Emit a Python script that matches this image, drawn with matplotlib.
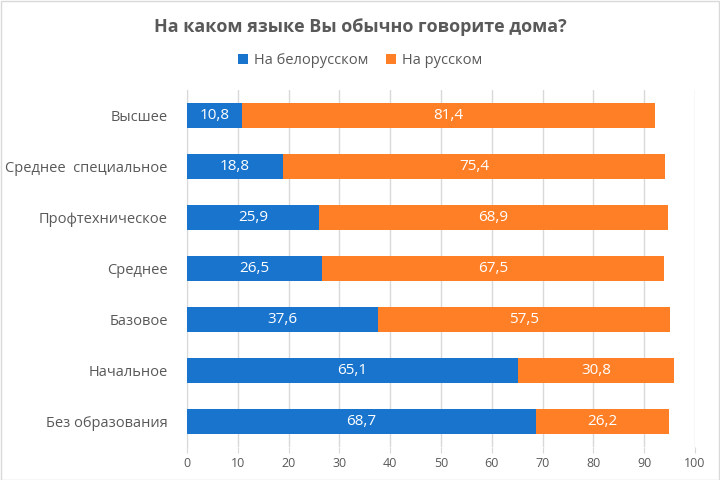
import matplotlib
matplotlib.use("Agg")
import matplotlib.pyplot as plt

categories = ["Высшее", "Среднее  специальное", "Профтехническое", "Среднее",
              "Базовое", "Начальное", "Без образования"]
belarusian = [10.8, 18.8, 25.9, 26.5, 37.6, 65.1, 68.7]
russian = [81.4, 75.4, 68.9, 67.5, 57.5, 30.8, 26.2]
series_names = ["На белорусском", "На русском"]
title = "На каком языке Вы обычно говорите дома?"

plt.rcParams['font.family'] = ['Open Sans', 'DejaVu Sans']
blue = "#1874CD"
orange = "#FF7F27"
gray = "#595959"

fig = plt.figure(figsize=(7.2, 4.8), dpi=100)
ax = fig.add_axes([0.26, 0.069, 0.705, 0.744])

y = list(range(len(categories)))
b1 = ax.barh(y, belarusian, height=0.5, color=blue, label=series_names[0], zorder=3)
b2 = ax.barh(y, russian, left=belarusian, height=0.5, color=orange, label=series_names[1], zorder=3)
for bars, vals in ((b1, belarusian), (b2, russian)):
    ax.bar_label(bars, labels=[f"{v:.1f}".replace('.', ',') for v in vals],
                 label_type='center', color='white', fontsize=11)

ax.set_ylim(len(categories) - 0.5, -0.5)
ax.set_xlim(0, 100)
ax.set_xticks(range(0, 101, 10))
ax.set_yticks(y)
ax.set_yticklabels(categories, fontsize=10.5, color=gray)
ax.tick_params(axis='x', labelsize=9, colors=gray, length=4, color="#d9d9d9")
ax.tick_params(axis='y', length=0, pad=14)
ax.grid(axis='x', color="#d9d9d9", linewidth=1, zorder=0)
for s in ['top', 'right', 'bottom']:
    ax.spines[s].set_visible(False)
ax.spines['left'].set_color("#d9d9d9")

fig.text(0.5, 0.943, title, ha='center', va='center', fontsize=13, fontweight='bold', color=gray)
fig.legend(handles=[b1, b2], loc='center', bbox_to_anchor=(0.5, 0.874), ncol=2, frameon=False,
           fontsize=10.5, labelcolor=gray, handlelength=0.7, handleheight=0.7, columnspacing=1.2,
           handletextpad=0.4)

border = plt.Rectangle((0.001, 0.001), 0.997, 0.997, transform=fig.transFigure, fill=False,
                       edgecolor="#d9d9d9", linewidth=1)
fig.add_artist(border)
fig.savefig("out.png", dpi=100)
